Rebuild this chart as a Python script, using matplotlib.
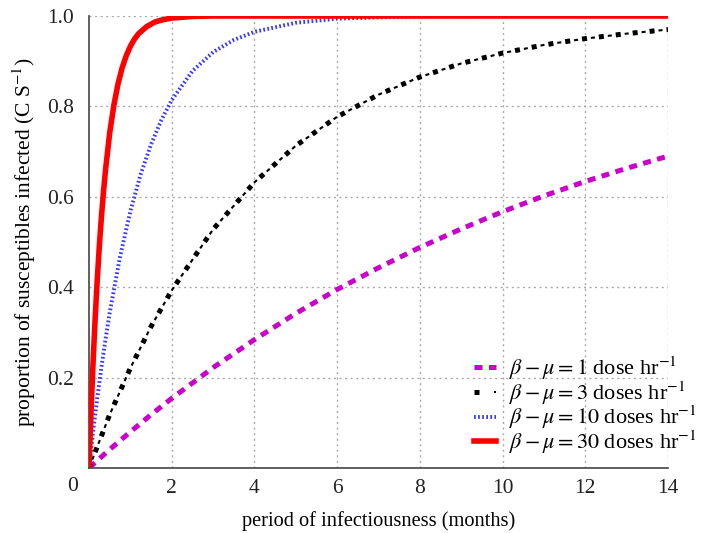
import matplotlib
matplotlib.use("Agg")
import matplotlib.pyplot as plt
from matplotlib.legend_handler import HandlerTuple

plt.rcParams['font.family'] = ['Liberation Serif', 'DejaVu Serif']
plt.rcParams['mathtext.fontset'] = 'stix'

# data
t_slow = [0, 0.5, 1, 1.5, 2, 3, 4, 5, 6, 7, 8, 9, 10, 11, 12, 13, 14]
y_1 = [0, 0.041, 0.080, 0.118, 0.154, 0.222, 0.284, 0.342, 0.395, 0.443,
       0.488, 0.529, 0.567, 0.602, 0.634, 0.663, 0.690]
y_3 = [0, 0.118, 0.221, 0.313, 0.393, 0.528, 0.632, 0.713, 0.777, 0.826,
       0.865, 0.895, 0.918, 0.936, 0.950, 0.961, 0.970]
t_10 = [0, 0.05, 0.1, 0.2, 0.3, 0.4, 0.5, 0.75, 1, 1.25, 1.5, 1.75, 2, 2.5,
        3, 3.5, 4, 5, 6, 7, 8, 10, 12, 14]
y_10 = [0, 0.041, 0.081, 0.155, 0.223, 0.285, 0.343, 0.467, 0.568, 0.650,
        0.716, 0.770, 0.814, 0.878, 0.920, 0.947, 0.965, 0.985, 0.994, 0.997,
        0.999, 1.0, 1.0, 1.0]
t_30 = [0, 0.025, 0.05, 0.075, 0.1, 0.15, 0.2, 0.25, 0.3, 0.35, 0.4, 0.5,
        0.6, 0.7, 0.8, 0.9, 1.0, 1.1, 1.2, 1.4, 1.6, 1.8, 2.0, 2.5, 3, 14]
y_30 = [0, 0.065, 0.126, 0.183, 0.237, 0.333, 0.417, 0.491, 0.555, 0.611,
        0.660, 0.741, 0.802, 0.849, 0.885, 0.912, 0.933, 0.949, 0.961, 0.977,
        0.987, 0.992, 0.9955, 0.999, 1.0, 1.0]

labels = [r'$\beta - \mu = 1$ dose hr$^{-1}$',
          r'$\beta - \mu = 3$ doses hr$^{-1}$',
          r'$\beta - \mu = 10$ doses hr$^{-1}$',
          r'$\beta - \mu = 30$ doses hr$^{-1}$']
xticks = [2, 4, 6, 8, 10, 12, 14]
yticks = [0.2, 0.4, 0.6, 0.8, 1.0]

fig = plt.figure(figsize=(7.01, 5.33), dpi=100)
ax = fig.add_axes([89/701, 1-468/533, (668-89)/701, (468-16)/533])

l1, = ax.plot(t_slow, y_1, color='#cc00cc', lw=3.6,
              linestyle=(0, (1.6, 1.3)), zorder=3)
# black dash-dot: thick squares with thin dashes between
l3a, = ax.plot(t_slow, y_3, color='black', lw=3.6,
               linestyle=(0, (1.0, 2.4)), zorder=3)
l3b, = ax.plot(t_slow, y_3, color='black', lw=1.5,
               linestyle=(3.85, (1.93, 6.23)), zorder=3)
l10, = ax.plot(t_10, y_10, color='#3a3aff', lw=2.8,
               linestyle=(0, (0.45, 0.6)), zorder=3)
l30, = ax.plot(t_30, y_30, color='#ff0000', lw=4.0, linestyle='-', zorder=4)

ax.set_xlim(0, 14)
ax.set_ylim(0, 1)
ax.set_xticks(xticks)
ax.set_yticks(yticks)
ax.set_xticklabels([str(v) for v in xticks])
ax.set_yticklabels(['%.1f' % v for v in yticks])
ax.tick_params(length=0, labelsize=15.5, colors='#222222')
ax.tick_params(axis='x', pad=8)
ax.tick_params(axis='y', pad=11)
ax.grid(True, color='#aaaaaa', linestyle=(0, (1.5, 2.5)), linewidth=1.0)
for s in ['top', 'right']:
    ax.spines[s].set_visible(False)
for s in ['left', 'bottom']:
    ax.spines[s].set_color('#444444')
    ax.spines[s].set_linewidth(1.2)

ax.text(-0.4, -0.04, '0', transform=ax.transData, fontsize=15.5,
        ha='center', va='center', color='#222222')

ax.set_xlabel('period of infectiousness (months)', fontsize=14.7, labelpad=9)
ax.set_ylabel(r'proportion of susceptibles infected (C S$^{-1}$)', fontsize=15.5,
              labelpad=6)

leg = ax.legend([l1, (l3a, l3b), l10, l30], labels,
                handler_map={tuple: HandlerTuple(ndivide=None, pad=0)},
                loc='lower right', bbox_to_anchor=(1.05, 0.026), frameon=False,
                fontsize=16, handlelength=1.0, handletextpad=0.6,
                labelspacing=-0.12, borderaxespad=0, borderpad=0)

fig.savefig('out.png', dpi=100)
